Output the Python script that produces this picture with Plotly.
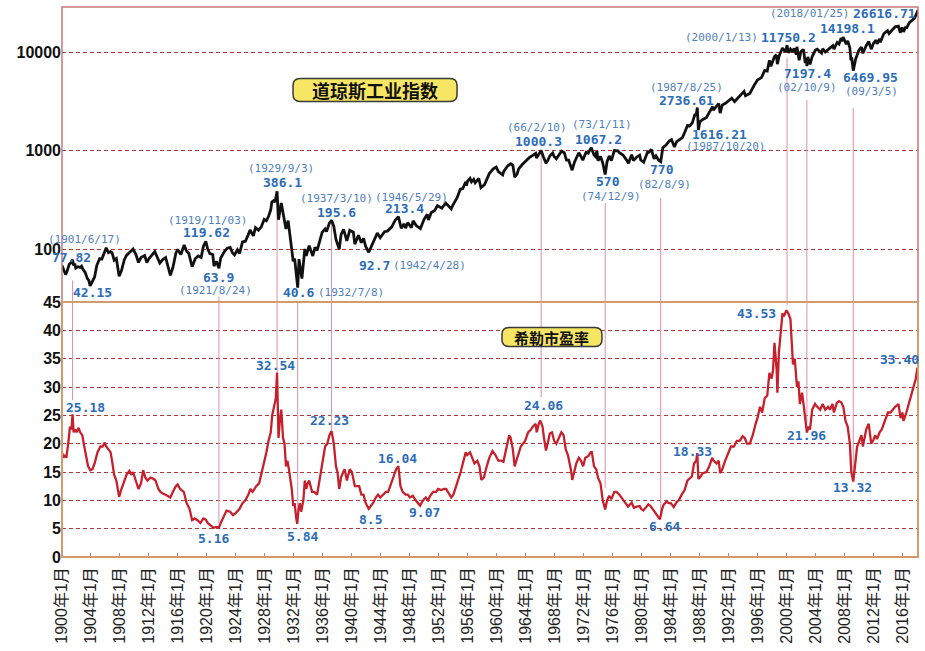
import numpy as np
import plotly.graph_objects as go
from plotly.subplots import make_subplots

# ---------------- data ----------------
dj_year = [1900.0, 1900.15, 1900.3, 1900.5, 1900.65, 1900.8, 1901.0, 1901.2, 1901.46, 1901.6, 1901.75, 1901.9,
           1902.2, 1902.5, 1902.7, 1902.9, 1903.2, 1903.5, 1903.7, 1903.88, 1904.2, 1904.5, 1904.8, 1905.2,
           1905.5, 1905.9, 1906.1, 1906.4, 1906.7, 1906.9, 1907.2, 1907.5, 1907.88, 1908.2, 1908.6, 1908.9,
           1909.3, 1909.8, 1910.2, 1910.55, 1910.9, 1911.4, 1911.7, 1912.0, 1912.8, 1913.1, 1913.5, 1913.9,
           1914.3, 1914.95, 1915.3, 1915.7, 1915.95, 1916.4, 1916.85, 1917.2, 1917.5, 1917.95, 1918.4, 1918.8,
           1919.2, 1919.5, 1919.84, 1920.1, 1920.4, 1920.8, 1920.97, 1921.3, 1921.65, 1921.9, 1922.4, 1922.8,
           1923.2, 1923.5, 1923.8, 1924.2, 1924.5, 1924.9, 1925.3, 1925.7, 1925.95, 1926.2, 1926.4, 1926.7,
           1927.1, 1927.5, 1927.9, 1928.2, 1928.5, 1928.8, 1928.95, 1929.2, 1929.4, 1929.67, 1929.87, 1930.25,
           1930.5, 1930.9, 1931.2, 1931.5, 1931.9, 1932.1, 1932.52, 1932.7, 1933.1, 1933.5, 1933.7, 1934.1,
           1934.6, 1934.9, 1935.2, 1935.9, 1936.3, 1936.5, 1936.9, 1937.19, 1937.5, 1937.8, 1938.25, 1938.5,
           1938.85, 1939.3, 1939.7, 1940.2, 1940.4, 1940.9, 1941.3, 1941.6, 1941.9, 1942.32, 1942.7, 1943.0,
           1943.5, 1943.9, 1944.5, 1944.9, 1945.5, 1945.95, 1946.41, 1946.8, 1947.2, 1947.4, 1947.7, 1948.2,
           1948.45, 1948.9, 1949.45, 1949.95, 1950.4, 1950.55, 1950.95, 1951.4, 1951.8, 1952.4, 1952.95, 1953.4,
           1953.7, 1953.95, 1954.5, 1954.95, 1955.3, 1955.7, 1955.8, 1955.95, 1956.3, 1956.5, 1956.8, 1957.0,
           1957.5, 1957.8, 1958.3, 1958.95, 1959.5, 1959.9, 1960.2, 1960.8, 1960.95, 1961.5, 1961.9, 1962.2,
           1962.46, 1962.8, 1963.0, 1963.5, 1963.9, 1964.5, 1964.95, 1965.35, 1965.45, 1965.95, 1966.11, 1966.4,
           1966.77, 1967.0, 1967.3, 1967.7, 1967.9, 1968.2, 1968.6, 1968.92, 1969.3, 1969.6, 1969.9, 1970.38,
           1970.7, 1970.95, 1971.3, 1971.6, 1971.85, 1972.3, 1972.6, 1972.9, 1973.03, 1973.4, 1973.6, 1973.8,
           1973.95, 1974.3, 1974.6, 1974.94, 1975.2, 1975.5, 1975.8, 1976.2, 1976.7, 1976.9, 1977.4, 1977.9,
           1978.15, 1978.6, 1978.85, 1979.3, 1979.7, 1979.85, 1980.25, 1980.8, 1980.95, 1981.3, 1981.7, 1981.95,
           1982.3, 1982.6, 1982.9, 1983.3, 1983.8, 1984.1, 1984.5, 1984.8, 1985.1, 1985.6, 1985.95, 1986.3,
           1986.6, 1986.95, 1987.3, 1987.5, 1987.65, 1987.8, 1988.0, 1988.4, 1988.9, 1989.4, 1989.75, 1989.85,
           1990.4, 1990.6, 1990.8, 1991.1, 1991.5, 1991.95, 1992.4, 1992.8, 1993.4, 1993.95, 1994.1, 1994.3,
           1994.9, 1995.5, 1995.95, 1996.5, 1996.95, 1997.3, 1997.6, 1997.8, 1998.3, 1998.55, 1998.7, 1998.95,
           1999.4, 1999.8, 2000.03, 2000.2, 2000.5, 2000.8, 2001.0, 2001.3, 2001.4, 2001.7, 2001.95, 2002.3,
           2002.55, 2002.7, 2002.77, 2002.9, 2003.2, 2003.5, 2003.95, 2004.2, 2004.8, 2004.95, 2005.3, 2005.9,
           2006.35, 2006.5, 2006.95, 2007.2, 2007.5, 2007.6, 2007.77, 2008.2, 2008.4, 2008.7, 2008.85, 2008.95,
           2009.17, 2009.5, 2009.95, 2010.3, 2010.5, 2010.95, 2011.3, 2011.65, 2011.95, 2012.3, 2012.45, 2012.8,
           2012.9, 2013.4, 2013.9, 2014.1, 2014.95, 2015.4, 2015.65, 2015.9, 2016.1, 2016.4, 2016.5, 2016.9,
           2017.3, 2017.6, 2017.95, 2018.07]
dj_value = [68, 63, 60, 55, 58, 62, 70, 72, 77.82, 68, 71, 64,
            66, 65, 67, 62, 58, 50, 48, 42.15, 48, 52, 68, 80,
            79, 96, 103, 92, 94, 92, 77, 80, 53, 60, 78, 86,
            92, 100, 88, 73, 82, 86, 73, 80, 94, 84, 72, 78,
            82, 54, 65, 90, 99, 88, 110, 95, 90, 66, 80, 85,
            82, 106, 119.62, 100, 90, 88, 67, 75, 63.9, 81, 94, 102,
            104, 92, 87, 98, 90, 118, 120, 140, 156, 144, 136, 165,
            155, 168, 200, 194, 215, 250, 300, 310, 300, 386.1, 198, 294,
            225, 160, 194, 125, 75, 80, 40.6, 79, 50, 100, 85, 108,
            85, 104, 97, 148, 160, 150, 184, 195.6, 170, 125, 99, 140,
            158, 121, 155, 148, 112, 138, 116, 128, 106, 92.7, 108, 120,
            145, 130, 150, 152, 168, 195, 213.4, 163, 180, 163, 185, 165,
            193, 172, 161, 200, 225, 197, 235, 245, 276, 260, 292, 270,
            255, 281, 330, 404, 410, 480, 440, 488, 521, 480, 510, 470,
            520, 419, 450, 583, 650, 679, 610, 566, 615, 700, 734, 710,
            535, 580, 650, 720, 767, 850, 891, 935, 840, 969, 1000.3, 870,
            744, 786, 880, 943, 870, 825, 900, 985, 950, 800, 800, 631,
            760, 838, 950, 870, 798, 960, 940, 1036, 1067.2, 900, 870, 987,
            788, 870, 750, 570, 770, 881, 790, 1000, 990, 950, 900, 800,
            742, 907, 790, 860, 897, 800, 759, 970, 960, 1024, 824, 880,
            800, 770, 1070, 1130, 1250, 1286, 1087, 1230, 1270, 1350, 1550, 1800,
            1780, 1900, 2300, 2300, 2736.61, 1616.21, 1950, 2070, 2150, 2500, 2790, 2570,
            2900, 2999, 2400, 2900, 3000, 3170, 3400, 3140, 3500, 3790, 3980, 3600,
            3800, 4600, 5200, 5500, 6500, 6400, 8250, 7160, 9000, 9370, 7539, 9180,
            11000, 10000, 11750.2, 9800, 10700, 10000, 10900, 9400, 11300, 8235, 10100, 10600,
            7700, 8700, 7197.4, 8900, 7500, 9000, 10450, 10700, 9750, 10800, 10000, 10900,
            11600, 10700, 12500, 12050, 13900, 12800, 14198.1, 12000, 13000, 11000, 8200, 8800,
            6469.95, 8500, 10430, 11200, 9700, 11600, 12800, 10700, 12200, 13200, 12100, 13600,
            12600, 15400, 16500, 15400, 18000, 18300, 15700, 17800, 16000, 18000, 17400, 19900,
            21000, 22000, 24800, 26616.71]

pe_year = [1900.0, 1900.2, 1900.4, 1900.6, 1900.9, 1901.1, 1901.3, 1901.46, 1901.6, 1901.8, 1902.0, 1902.3,
           1902.5, 1902.8, 1903.0, 1903.3, 1903.6, 1903.9, 1904.2, 1904.5, 1904.9, 1905.3, 1905.6, 1905.9,
           1906.1, 1906.4, 1906.7, 1906.9, 1907.2, 1907.5, 1907.88, 1908.2, 1908.6, 1908.9, 1909.3, 1909.6,
           1909.8, 1910.2, 1910.55, 1910.9, 1911.2, 1911.5, 1911.8, 1912.2, 1912.6, 1912.9, 1913.3, 1913.6,
           1913.9, 1914.3, 1914.95, 1915.3, 1915.7, 1915.95, 1916.3, 1916.8, 1917.2, 1917.6, 1917.95, 1918.3,
           1918.7, 1919.1, 1919.5, 1919.84, 1920.1, 1920.5, 1920.9, 1921.3, 1921.65, 1921.9, 1922.3, 1922.7,
           1923.2, 1923.6, 1924.0, 1924.5, 1924.9, 1925.3, 1925.7, 1926.0, 1926.3, 1926.8, 1927.2, 1927.6,
           1927.9, 1928.2, 1928.5, 1928.8, 1929.0, 1929.3, 1929.5, 1929.67, 1929.87, 1930.05, 1930.25, 1930.5,
           1930.7, 1930.9, 1931.1, 1931.3, 1931.5, 1931.7, 1931.9, 1932.1, 1932.3, 1932.45, 1932.6, 1932.8,
           1933.0, 1933.3, 1933.5, 1933.7, 1933.9, 1934.1, 1934.5, 1934.8, 1935.2, 1935.5, 1935.9, 1936.3,
           1936.6, 1936.9, 1937.19, 1937.5, 1937.8, 1938.0, 1938.25, 1938.5, 1938.8, 1939.0, 1939.3, 1939.7,
           1940.0, 1940.4, 1940.7, 1941.0, 1941.3, 1941.6, 1941.9, 1942.32, 1942.6, 1942.9, 1943.3, 1943.6,
           1943.9, 1944.3, 1944.7, 1945.0, 1945.4, 1945.8, 1946.1, 1946.41, 1946.7, 1947.0, 1947.4, 1947.7,
           1948.0, 1948.4, 1948.8, 1949.4, 1949.8, 1950.2, 1950.5, 1950.8, 1951.2, 1951.6, 1951.9, 1952.3,
           1952.7, 1953.0, 1953.4, 1953.7, 1954.0, 1954.4, 1954.8, 1955.0, 1955.3, 1955.7, 1955.9, 1956.3,
           1956.6, 1956.9, 1957.3, 1957.6, 1957.85, 1958.2, 1958.6, 1958.95, 1959.4, 1959.8, 1960.2, 1960.6,
           1960.9, 1961.3, 1961.7, 1961.9, 1962.2, 1962.45, 1962.7, 1962.9, 1963.3, 1963.6, 1963.9, 1964.3,
           1964.7, 1964.95, 1965.35, 1965.5, 1965.8, 1966.0, 1966.3, 1966.5, 1966.77, 1967.0, 1967.3, 1967.6,
           1967.9, 1968.2, 1968.6, 1968.9, 1969.2, 1969.5, 1969.8, 1970.0, 1970.2, 1970.4, 1970.7, 1970.95,
           1971.3, 1971.6, 1971.9, 1972.2, 1972.6, 1972.95, 1973.1, 1973.4, 1973.7, 1973.95, 1974.3, 1974.6,
           1974.94, 1975.2, 1975.5, 1975.8, 1976.2, 1976.5, 1976.9, 1977.3, 1977.7, 1978.1, 1978.6, 1978.9,
           1979.3, 1979.7, 1979.9, 1980.2, 1980.6, 1980.9, 1981.2, 1981.6, 1981.9, 1982.2, 1982.5, 1982.8,
           1983.0, 1983.4, 1983.7, 1984.0, 1984.4, 1984.8, 1985.1, 1985.5, 1985.9, 1986.3, 1986.6, 1986.9,
           1987.2, 1987.5, 1987.65, 1987.8, 1988.0, 1988.4, 1988.9, 1989.3, 1989.7, 1989.9, 1990.3, 1990.6,
           1990.8, 1991.1, 1991.5, 1991.95, 1992.3, 1992.7, 1993.1, 1993.5, 1993.9, 1994.2, 1994.5, 1994.9,
           1995.3, 1995.7, 1995.95, 1996.3, 1996.6, 1996.95, 1997.3, 1997.6, 1997.9, 1998.1, 1998.3, 1998.6,
           1998.7, 1998.9, 1999.2, 1999.4, 1999.6, 1999.95, 2000.2, 2000.5, 2000.85, 2001.1, 2001.4, 2001.6,
           2001.8, 2002.1, 2002.4, 2002.77, 2003.0, 2003.2, 2003.5, 2003.9, 2004.2, 2004.6, 2004.95, 2005.3,
           2005.7, 2005.95, 2006.3, 2006.5, 2006.9, 2007.2, 2007.5, 2007.8, 2008.1, 2008.4, 2008.7, 2008.9,
           2009.17, 2009.4, 2009.7, 2009.95, 2010.3, 2010.5, 2010.95, 2011.3, 2011.65, 2011.9, 2012.2, 2012.45,
           2012.8, 2013.1, 2013.5, 2013.95, 2014.3, 2014.6, 2014.95, 2015.4, 2015.7, 2015.95, 2016.1, 2016.5,
           2016.9, 2017.2, 2017.5, 2017.8, 2018.02]
pe_value = [18.5, 17.5, 18.0, 17.5, 20.5, 23, 22.5, 25.18, 22, 22.5, 22, 22.8,
            22, 21.5, 20, 18, 16, 15.3, 15.5, 16.5, 18.5, 19.5, 19.5, 20.2,
            19.5, 19, 18.5, 17, 14.5, 13.5, 10.6, 12, 13.5, 14.5, 15.2, 14.5,
            15, 13.5, 12, 13, 15.3, 14, 13.5, 14, 13.8, 13.5, 12, 11.5,
            11.2, 11, 10.5, 11.5, 12.5, 12.8, 12, 11.5, 9.5, 8.5, 6.5, 6.8,
            6.5, 6.0, 6.8, 6.6, 6, 5.6, 5.16, 5.3, 5.2, 6, 7.2, 8.2,
            8, 7.4, 7.8, 8.5, 9.5, 10, 11, 12, 11.5, 12.5, 13, 15,
            17, 18.5, 20.5, 22, 25, 27, 28, 32.54, 21, 24, 26, 21,
            20, 16, 17, 15.5, 14, 12, 9, 9.5, 7, 5.84, 8, 9.5,
            8, 10, 13.5, 12, 13, 13.5, 11.5, 11.5, 11, 13.5, 17, 19.5,
            20, 21.5, 22.23, 20, 16, 15, 12, 14, 15, 15.5, 13.5, 15.5,
            15, 12.5, 12.5, 12.5, 11, 11, 9.5, 8.5, 9, 9.5, 10.5, 11,
            10.5, 11, 11.5, 11.5, 13, 14.5, 15.5, 16.04, 12.5, 11.5, 11, 11,
            10.5, 10.8, 10, 9.07, 10, 10.5, 10, 10.8, 11.5, 11.5, 12, 11.8,
            12, 12, 11, 10.5, 11, 12.5, 14, 15, 16.5, 18.5, 18, 18.5,
            17.5, 16.5, 17, 16, 13.6, 14, 16, 17.5, 18.7, 18, 17, 17,
            16.8, 19.5, 21.5, 21, 19, 16, 17, 18, 19.5, 20, 20.5, 22,
            22.5, 23, 23.5, 22, 23.6, 24.06, 23, 21, 18.8, 20, 21.8, 22,
            20.5, 20, 21, 22, 21.5, 19, 18, 17, 15.5, 13.6, 15.5, 16.5,
            17.5, 17, 16, 17.5, 17.8, 18.5, 18.5, 16, 15.5, 14, 13, 10,
            8.4, 10, 10.8, 10.2, 11.5, 11.5, 11, 10.3, 9.8, 8.9, 9.6, 8.7,
            8.9, 9, 8.5, 8.2, 8.8, 9.3, 9, 8.3, 7.8, 7.2, 6.64, 8.5,
            9.2, 9.8, 9.5, 9.5, 8.8, 9.7, 10, 11, 11.8, 13.5, 13.8, 14.2,
            16.5, 17, 18.33, 13.8, 14, 14.8, 15, 16, 17.5, 17, 16.5, 17,
            14.8, 15.5, 17, 18.5, 19.5, 19.5, 20.5, 20.5, 21.3, 21, 20, 20,
            21.5, 23.5, 24.5, 26.5, 25.5, 28, 28.5, 32.5, 31.5, 33, 37.8, 33,
            29, 36, 40, 43, 42.5, 43.53, 43, 42, 34, 35, 30, 31,
            27, 29, 26, 21.96, 23, 22.5, 26, 27, 26.5, 26, 27, 26,
            26.5, 26, 27, 25.5, 27.2, 27.5, 27.3, 26.5, 24, 23, 20, 15,
            13.32, 16, 19.5, 20.3, 21.5, 19.5, 22.5, 23.5, 20, 20.5, 21.5, 20.8,
            22, 22.5, 23.8, 25.5, 25.5, 26, 26.5, 27, 24.5, 25.5, 24, 25.5,
            27.5, 29, 30, 31.5, 33.40]

# annotated Dow points
dj_ev_year = [1901.46, 1903.88, 1919.84, 1921.65, 1929.67, 1932.52, 1937.19, 1946.41, 1942.32, 1966.11,
              1973.03, 1974.94, 1982.6, 1987.65, 1987.8, 2000.03, 2018.07, 2007.77, 2002.77, 2009.17]
dj_ev_value = [77.82, 42.15, 119.62, 63.9, 386.1, 40.6, 195.6, 213.4, 92.7, 1000.3,
               1067.2, 570, 770, 2736.61, 1616.21, 11750.2, 26616.71, 14198.1, 7197.4, 6469.95]
dj_ev_text = ["77.82", "42.15", "119.62", "63.9", "386.1", "40.6", "195.6", "213.4", "92.7", "1000.3",
              "1067.2", "570", "770", "2736.61", "1616.21", "11750.2", "26616.71", "14198.1", "7197.4", "6469.95"]
dj_ev_date = ["(1901/6/17)", "", "(1919/11/03)", "(1921/8/24)", "(1929/9/3)", "(1932/7/8)", "(1937/3/10)",
              "(1946/5/29)", "(1942/4/28)", "(66/2/10)", "(73/1/11)", "(74/12/9)", "(82/8/9)", "(1987/8/25)",
              "(1987/10/20)", "(2000/1/13)", "(2018/01/25)", "", "(02/10/9)", "(09/3/5)"]

# annotated PE points
pe_ev_year = [1901.46, 1921.65, 1929.67, 1932.52, 1937.19, 1942.32, 1946.41, 1949.4, 1966.11, 1982.6,
              1987.65, 2000.03, 2002.77, 2009.17, 2018.02]
pe_ev_value = [25.18, 5.16, 32.54, 5.84, 22.23, 8.5, 16.04, 9.07, 24.06, 6.64,
               18.33, 43.53, 21.96, 13.32, 33.40]
pe_ev_text = ["25.18", "5.16", "32.54", "5.84", "22.23", "8.5", "16.04", "9.07", "24.06", "6.64",
              "18.33", "43.53", "21.96", "13.32", "33.40"]

# connector lines between the two panels (date, Dow start, PE end)
link_year = [1901.46, 1921.65, 1929.67, 1932.52, 1937.19, 1966.11, 1974.94, 1982.6, 2000.03, 2002.77, 2009.17]
link_dj = [48, 33, 320, 30, 190, 960, 293, 330, 8690, 3258, 2702]
link_pe = [27.7, 6.0, 32.6, 6.5, 22.4, 28.2, 12.2, 7.1, 44.5, 23.8, 13.9]

tick_years = list(range(1900, 2017, 4))
tick_text = [f"{y}年1月" for y in tick_years]
dj_ticks = [100, 1000, 10000]
pe_ticks = [0, 5, 10, 15, 20, 25, 30, 35, 40, 45]

# ---------------- styling / label offsets (pixels) ----------------
dj_val_off = [(-1, 2), (2, -7), (1, 9), (0, -9), (5, 9), (1, -5), (5, 8), (6, 8), (6, -13), (-3, 9),
              (7, 8), (3, -7), (1, -8), (-11, 7), (21, -5), (1, 8), (-33, -3), (4, 9), (1, -7), (17, -7)]
dj_date_off = [(12, 20), None, (2, 21), (-3, -22), (4, 23), (53, -5), (5, 22), (13, 19), (61, -13), (-4, 23),
               (11, 23), (6, -22), (4, -23), (-11, 20), (27, -17), (-66, 8), (-108, -3), None, (0, -21), (18, -21)]
pe_off = [(13, 7), (-5, -11), (-2, 7), (5, -13), (-2, 11), (2, -11), (-1, 8), (4, -7), (2, 15), (4, -7),
          (-5, 2), (-31, -3), (0, -3), (-1, -6), (-18, 8)]

VAL_COLOR = "#2c6cb8"
DATE_COLOR = "#4f7fc0"
GRID = "#b23a3a"

fig = make_subplots(rows=2, cols=1, shared_xaxes=True, vertical_spacing=0, row_heights=[295, 255])

# connectors
lx, ly1, ly2 = [], [], []
for yr, a, b in zip(link_year, link_dj, link_pe):
    lx += [yr, yr, None]
    ly1 += [a, 1, None]
    ly2 += [100, b, None]
fig.add_trace(go.Scatter(x=lx, y=ly1, mode="lines", line=dict(color="#d98fb0", width=1), hoverinfo="skip"), row=1, col=1)
fig.add_trace(go.Scatter(x=lx, y=ly2, mode="lines", line=dict(color="#d98fb0", width=1), hoverinfo="skip"), row=2, col=1)

fig.add_trace(go.Scatter(x=dj_year, y=dj_value, mode="lines", line=dict(color="#111111", width=2.8)), row=1, col=1)
fig.add_trace(go.Scatter(x=pe_year, y=pe_value, mode="lines", line=dict(color="#c5202b", width=2.3)), row=2, col=1)

annotations = []
for i, (yr, v) in enumerate(zip(dj_ev_year, dj_ev_value)):
    dx, dy = dj_val_off[i]
    annotations.append(dict(x=yr, y=np.log10(v), xref="x", yref="y", text="<b>" + dj_ev_text[i] + "</b>",
                            showarrow=False, xshift=dx, yshift=dy, xanchor="center", yanchor="middle",
                            font=dict(family="DejaVu Sans Mono", size=13, color=VAL_COLOR)))
    if dj_ev_date[i]:
        dx, dy = dj_date_off[i]
        annotations.append(dict(x=yr, y=np.log10(v), xref="x", yref="y", text=dj_ev_date[i],
                                showarrow=False, xshift=dx, yshift=dy, xanchor="center", yanchor="middle",
                                font=dict(family="DejaVu Sans Mono", size=11, color=DATE_COLOR)))
for i, (yr, v) in enumerate(zip(pe_ev_year, pe_ev_value)):
    dx, dy = pe_off[i]
    annotations.append(dict(x=yr, y=v, xref="x2", yref="y2", text="<b>" + pe_ev_text[i] + "</b>",
                            showarrow=False, xshift=dx, yshift=dy, xanchor="center", yanchor="middle",
                            font=dict(family="DejaVu Sans Mono", size=13, color=VAL_COLOR)))

# title boxes
def rounded(w, h, r):
    x0, x1, y0, y1 = -w / 2, w / 2, -h / 2, h / 2
    return (f"M {x0+r},{y0} L {x1-r},{y0} Q {x1},{y0} {x1},{y0+r} L {x1},{y1-r} Q {x1},{y1} {x1-r},{y1} "
            f"L {x0+r},{y1} Q {x0},{y1} {x0},{y1-r} L {x0},{y0+r} Q {x0},{y0} {x0+r},{y0} Z")

titles = [("道琼斯工业指数", 0.3657, 0.849, 164, 23, 18), ("希勒市盈率", 0.5724, 0.40, 100, 19, 15)]
shapes = []
for txt, px, py, w, h, fs in titles:
    shapes.append(dict(type="path", xref="paper", yref="paper", xsizemode="pixel", ysizemode="pixel",
                       xanchor=px, yanchor=py, path=rounded(w, h, 7), fillcolor="#f7e663",
                       line=dict(color="#3a3a3a", width=1.5), layer="above"))
    annotations.append(dict(x=px, y=py, xref="paper", yref="paper", text="<b>" + txt + "</b>", showarrow=False,
                            xanchor="center", yanchor="middle",
                            font=dict(family="Noto Sans CJK SC", size=fs, color="#111111")))

# panel frames
shapes.append(dict(type="rect", xref="x domain", yref="y domain", x0=0, x1=1, y0=0, y1=1,
                   line=dict(color="#c97878", width=1.5), layer="above"))
shapes.append(dict(type="rect", xref="x2 domain", yref="y2 domain", x0=0, x1=1, y0=0, y1=1,
                   line=dict(color="#d49a6a", width=2), layer="above"))

fig.update_layout(
    width=925, height=651, margin=dict(l=62, r=7, t=7, b=94, autoexpand=False),
    paper_bgcolor="white", plot_bgcolor="white", showlegend=False, hovermode=False,
    annotations=annotations, shapes=shapes,
)
fig.update_xaxes(range=[1900, 2018.1], showgrid=False, zeroline=False, showline=False, automargin=False)
fig.update_xaxes(showticklabels=False, ticks="", row=1, col=1)
fig.update_xaxes(tickmode="array", tickvals=tick_years, ticktext=tick_text, tickangle=-90,
                 ticks="inside", ticklen=4, tickcolor="#9a8a8a", ticklabelstandoff=6,
                 tickfont=dict(family="Liberation Sans, Noto Sans CJK SC", size=16, color="#222222"),
                 row=2, col=1)
fig.update_yaxes(type="log", range=[1.462, 4.457], tickmode="array", tickvals=dj_ticks,
                 ticktext=[str(t) for t in dj_ticks], showgrid=True, gridcolor=GRID, griddash="4px,3px",
                 gridwidth=1, zeroline=False, showline=False, ticks="", automargin=False,
                 tickfont=dict(family="Liberation Sans", size=16, color="#111111", weight="bold"),
                 row=1, col=1)
fig.update_yaxes(range=[0, 45], tickmode="array", tickvals=pe_ticks, ticktext=[str(t) for t in pe_ticks],
                 showgrid=True, gridcolor=GRID, griddash="4px,3px", gridwidth=1, zeroline=False,
                 showline=False, ticks="", automargin=False,
                 tickfont=dict(family="Liberation Sans", size=16, color="#111111", weight="bold"),
                 row=2, col=1)

fig.write_html("out.html", config={"displayModeBar": False},
               post_script="document.body.style.margin='0px';document.body.style.padding='0px';")
